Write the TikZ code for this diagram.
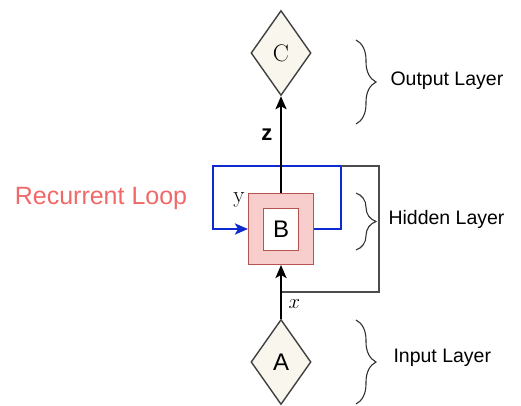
\documentclass[tikz,border=0pt]{standalone}
\usepackage{fontspec}
\setsansfont{Liberation Sans}
\usetikzlibrary{shapes.geometric,decorations.pathreplacing,arrows.meta}
\definecolor{layerfill}{HTML}{F9F7ED}
\definecolor{cellfill}{HTML}{F8CECC}
\definecolor{celldraw}{HTML}{B85450}
\definecolor{loopblue}{HTML}{0F2ACF}
\definecolor{looptext}{HTML}{F06868}
\tikzset{
  layer/.style={diamond, draw=black!75, fill=layerfill, line width=1.4pt, inner sep=0pt,
    minimum width=60pt, minimum height=85pt, font=\fontsize{24}{24}\selectfont},
  flow/.style={-{Stealth[length=13pt,width=11pt,inset=3pt]}, line width=2.5pt},
  bracelabel/.style={anchor=west, font=\sffamily\fontsize{19.5}{22}\selectfont},
  layerbrace/.style={decorate, decoration={brace, amplitude=20pt}, line width=1.1pt, black!80}
}
\begin{document}
\begin{tikzpicture}[x=1pt,y=-1pt]
  \useasboundingbox (0,0) rectangle (521,406);
  % nodes
  \node[layer] (C) at (281,53) {C};
  \node[layer] (A) at (281,362) {\sffamily A};
  \node[draw=celldraw, fill=cellfill, line width=1pt, minimum width=65pt, minimum height=71pt] (Bcell) at (281,229) {};
  \node[draw=celldraw, fill=white, line width=1pt, minimum width=35pt, minimum height=42pt,
        font=\sffamily\fontsize{24}{24}\selectfont] (B) at (281,229) {B};
  % recurrent loop
  \coordinate (loopNE) at (341,166);
  \draw[loopblue, line width=2.5pt, -{Stealth[length=13pt,width=11pt,inset=3pt]}]
    (Bcell.east) -| (loopNE) -| (213,229) -- (Bcell.west);
  \draw[black!70, line width=1.4pt] (loopNE) -- (379,166) |- (281,292);
  % connections
  \draw[flow] (A.north) -- node[pos=0.27, right=3pt, font=\fontsize{22}{22}\selectfont] {$x$} (Bcell.south);
  \draw[flow] (Bcell.north) -- node[pos=0.6, left=4pt, font=\sffamily\bfseries\fontsize{22}{22}\selectfont] {z} (C.south);
  \node[font=\fontsize{23}{23}\selectfont] (ylabel) at (239,200) {y};
  % braces
  \draw[layerbrace] (356,40) -- (356,124);
  \draw[layerbrace] (356,193) -- (356,250);
  \draw[layerbrace] (356,320) -- (356,404);
  \node[bracelabel] (outtxt) at (387,81) {Output Layer};
  \node[bracelabel] (hidtxt) at (385,219) {Hidden Layer};
  \node[bracelabel] (intxt) at (390,358) {Input Layer};
  \node[text=looptext, font=\sffamily\fontsize{25}{28}\selectfont] (looplabel) at (101,198) {Recurrent Loop};
\end{tikzpicture}
\end{document}
